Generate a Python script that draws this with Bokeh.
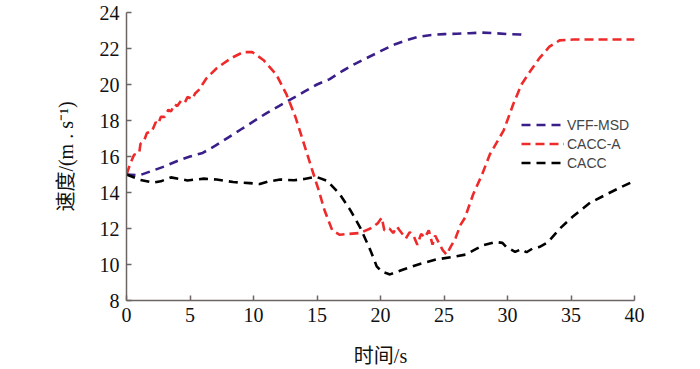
from bokeh.plotting import figure
from bokeh.models import FixedTicker, Legend, LegendItem
from bokeh.embed import file_html
from bokeh.resources import INLINE

# ---------------- data ----------------
x_ticks = [0, 5, 10, 15, 20, 25, 30, 35, 40]
y_ticks = [8, 10, 12, 14, 16, 18, 20, 22, 24]

vff_t = [0, 1, 2, 3, 4, 5, 6, 7, 8, 9, 10, 11, 12, 13, 14, 15, 16, 17, 18, 19,
         20, 21, 22, 23, 24, 25, 26, 27, 28, 29, 30, 31, 31.3]
vff_v = [15.0, 14.95, 15.2, 15.45, 15.75, 16.0, 16.2, 16.6, 17.05, 17.5, 17.95,
         18.4, 18.8, 19.2, 19.6, 20.0, 20.3, 20.75, 21.15, 21.5, 21.85, 22.2,
         22.45, 22.65, 22.75, 22.8, 22.82, 22.85, 22.88, 22.85, 22.8, 22.78, 22.75]

cacca_t = [0, 0.3, 0.6, 1.0, 1.1, 1.4, 1.6, 2.0, 2.3, 2.5, 2.7, 3.0, 3.3, 3.5,
           3.8, 4.0, 4.3, 4.6, 4.8, 5.2, 5.4, 5.7, 6.3, 7.1, 8.2, 9.2, 9.9, 10.8,
           11.8, 12.6, 13.3, 14.2, 14.6, 15.1, 15.6, 16.2, 16.8, 17.5, 18.4, 19.2,
           19.8, 20.1, 20.3, 20.7, 21.0, 21.3, 21.5, 22.0, 22.3, 22.6, 22.9, 23.2,
           23.5, 23.8, 24.1, 24.3, 24.6, 24.9, 25.2, 25.5, 25.9, 26.3, 26.65, 27.3,
           28.0, 28.6, 29.7, 30.45, 31.1, 31.8, 32.5, 33.3, 34.1, 35.2, 40]
cacca_v = [15.0, 15.6, 16.1, 16.2, 16.7, 16.9, 17.3, 17.4, 17.9, 17.8, 18.2, 18.2,
           18.6, 18.5, 18.9, 18.8, 19.1, 19.0, 19.3, 19.2, 19.5, 19.7, 20.35, 20.9,
           21.45, 21.8, 21.8, 21.35, 20.55, 19.45, 18.2, 16.2, 15.3, 14.2, 13.0,
           11.9, 11.65, 11.7, 11.75, 12.0, 12.3, 12.6, 11.9, 12.0, 11.75, 12.1,
           11.9, 11.45, 11.8, 11.6, 11.1, 11.7, 11.5, 11.9, 11.1, 11.6, 11.2, 10.8,
           10.55, 10.95, 11.45, 12.2, 12.6, 13.9, 15.0, 16.1, 17.45, 18.9, 20.0,
           20.75, 21.45, 22.1, 22.45, 22.5, 22.5]

cacc_t = [0, 1.1, 2.1, 2.7, 3.5, 4.8, 6.1, 7.1, 8.4, 9.7, 10.5, 11.1, 12.1, 13.2,
          14.0, 14.9, 15.8, 16.8, 17.6, 18.4, 19.2, 19.7, 20.1, 20.75, 21.8, 23.1,
          24.4, 25.7, 26.7, 27.5, 28.1, 29.1, 29.6, 29.9, 30.6, 31.1, 31.5, 32.0,
          32.5, 33.2, 34.1, 35.2, 36.5, 37.8, 38.8, 40]
cacc_v = [15.0, 14.7, 14.55, 14.62, 14.84, 14.67, 14.77, 14.72, 14.58, 14.52,
          14.47, 14.6, 14.72, 14.68, 14.75, 14.88, 14.65, 13.9, 13.05, 12.05, 10.8,
          9.9, 9.6, 9.45, 9.72, 10.03, 10.28, 10.42, 10.55, 10.85, 11.07, 11.25,
          11.2, 10.97, 10.7, 10.85, 10.68, 10.9, 10.97, 11.25, 11.98, 12.7, 13.43,
          13.9, 14.25, 14.65]

series_names = ["VFF-MSD", "CACC-A", "CACC"]
series_colors = ["#3a1f8a", "#ee2a2a", "#000000"]

# ---------------- figure ----------------
p = figure(width=700, height=369, x_range=(0, 40), y_range=(8, 24),
           output_backend="svg", toolbar_location=None, tools="",
           min_border_left=126, min_border_right=66, min_border_top=12,
           min_border_bottom=67)
p.outline_line_color = None
p.xgrid.visible = False
p.ygrid.visible = False
p.background_fill_color = "white"
p.border_fill_color = "white"

r1 = p.line(vff_t, vff_v, line_color=series_colors[0], line_width=2.6, line_dash="9 6")
r2 = p.line(cacca_t, cacca_v, line_color=series_colors[1], line_width=2.6, line_dash="9 5")
r3 = p.line(cacc_t, cacc_v, line_color=series_colors[2], line_width=2.6, line_dash="9 6")

axis_col = "#6d6464"
for ax in (p.xaxis[0], p.yaxis[0]):
    ax.axis_line_color = axis_col
    ax.axis_line_width = 1.5
    ax.major_tick_line_color = axis_col
    ax.major_tick_line_width = 1.5
    ax.major_tick_in = 5
    ax.major_tick_out = 0
    ax.minor_tick_line_color = None
    ax.major_label_text_font = "Liberation Serif"
    ax.major_label_text_font_size = "20px"
    ax.major_label_text_color = "#111111"
    ax.axis_label_text_font = "Liberation Serif, Noto Sans CJK SC"
    ax.axis_label_text_font_size = "20px"
    ax.axis_label_text_font_style = "normal"
    ax.axis_label_text_color = "#111111"

p.xaxis.ticker = FixedTicker(ticks=x_ticks)
p.yaxis.ticker = FixedTicker(ticks=y_ticks)
p.xaxis.major_label_standoff = 7
p.yaxis.major_label_standoff = 7
p.xaxis.axis_label = "时间/s"
p.yaxis.axis_label = "速度/(m . s⁻¹)"
p.xaxis.axis_label_standoff = 20
p.yaxis.axis_label_standoff = 20

legend = Legend(items=[LegendItem(label=series_names[0], renderers=[r1]),
                       LegendItem(label=series_names[1], renderers=[r2]),
                       LegendItem(label=series_names[2], renderers=[r3])],
                location=(395, 128), glyph_width=43, glyph_height=19,
                label_height=19, spacing=0, padding=0, margin=0,
                label_standoff=3, border_line_color=None,
                background_fill_alpha=0,
                label_text_font="Liberation Sans", label_text_font_size="14px")
p.add_layout(legend)

open("out.html", "w").write(file_html(p, INLINE))
